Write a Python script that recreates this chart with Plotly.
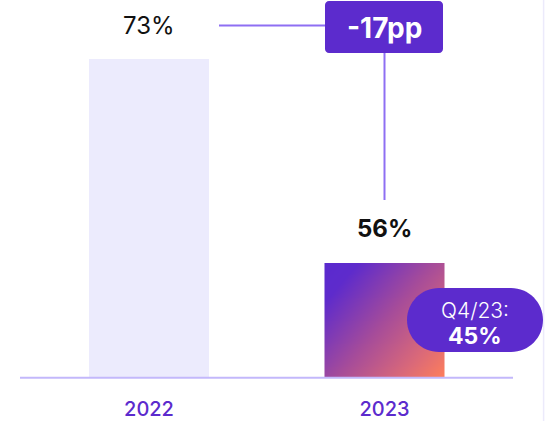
import numpy as np
import plotly.graph_objects as go

# ---- data ----
years = ["2022", "2023"]
shares = [73, 56]
value_labels = ["73%", "56%"]
delta_label = "-17pp"
q4_label = "Q4/23:"
q4_value = "45%"

# ---- layout constants ----
W, H = 545, 421
MB = 43
PLOT_H = H - MB
PX_PER_X = 235.5
X_CENTER0 = 149.0
PX_PER_Y = 12.0
Y_BASE = shares[1] - 115 / PX_PER_Y
x_range = [-X_CENTER0 / PX_PER_X, -X_CENTER0 / PX_PER_X + W / PX_PER_X]
y_range = [Y_BASE, Y_BASE + PLOT_H / PX_PER_Y]
BAR_W = 120 / PX_PER_X

PURPLE = "#5c2bcd"
LINE = "#8e6ff3"


def PX(px):
    return px / W


def PY(py):
    return (PLOT_H - py) / PLOT_H


def rounded_rect(x0, y0, x1, y1, r):
    k = 0.5523 * r

    def p(x, y):
        return f"{PX(x):.5f},{PY(y):.5f}"
    return (
        f"M {p(x0 + r, y0)} L {p(x1 - r, y0)} "
        f"C {p(x1 - r + k, y0)} {p(x1, y0 + r - k)} {p(x1, y0 + r)} "
        f"L {p(x1, y1 - r)} "
        f"C {p(x1, y1 - r + k)} {p(x1 - r + k, y1)} {p(x1 - r, y1)} "
        f"L {p(x0 + r, y1)} "
        f"C {p(x0 + r - k, y1)} {p(x0, y1 - r + k)} {p(x0, y1 - r)} "
        f"L {p(x0, y0 + r)} "
        f"C {p(x0, y0 + r - k)} {p(x0 + r - k, y0)} {p(x0 + r, y0)} Z"
    )


fig = go.Figure()

xpos = list(range(len(years)))

# gradient for 2023 bar via smooth heatmap
n = 60
gx0, gx1 = xpos[1] - BAR_W / 2, xpos[1] + BAR_W / 2
gy0, gy1 = y_range[0], shares[1]
xc = gx0 + (np.arange(n) + 0.5) * (gx1 - gx0) / n
yc = gy0 + (np.arange(n) + 0.5) * (gy1 - gy0) / n
u = (np.arange(n) + 0.5) / n            # left -> right
v = 1 - (np.arange(n) + 0.5) / n         # top -> bottom
Z = (0.55 * u[None, :] + 0.45 * v[:, None])
fig.add_trace(go.Heatmap(
    x=xc, y=yc, z=Z, zsmooth="best", showscale=False, hoverinfo="skip",
    colorscale=[[0, "#5a2ace"], [0.15, "#5e2bcc"], [0.5, "#a64c9a"],
                [0.8, "#dc6a78"], [1, "#ff7f5a"]],
    zmin=0, zmax=1,
))

fig.add_trace(go.Bar(
    x=xpos, y=shares, width=BAR_W,
    marker=dict(color=["#ecebfd", "rgba(0,0,0,0)"], line=dict(width=0)),
    hoverinfo="skip",
))

shapes = [
    dict(type="line", xref="paper", yref="paper", x0=PX(20), x1=PX(513),
         y0=PY(377.8), y1=PY(377.8), line=dict(color="#c3b8fb", width=2)),
    dict(type="line", xref="paper", yref="paper", x0=PX(543.6), x1=PX(543.6),
         y0=PY(0), y1=PY(421), line=dict(color="#eceafb", width=1.5)),
    dict(type="line", xref="paper", yref="paper", x0=PX(219), x1=PX(326),
         y0=PY(25.5), y1=PY(25.5), line=dict(color=LINE, width=2)),
    dict(type="line", xref="paper", yref="paper", x0=PX(384.5), x1=PX(384.5),
         y0=PY(52), y1=PY(200), line=dict(color=LINE, width=2)),
    dict(type="path", xref="paper", yref="paper", path=rounded_rect(325, 1, 443, 53, 4),
         fillcolor=PURPLE, line=dict(width=0)),
    dict(type="path", xref="paper", yref="paper", path=rounded_rect(407, 288, 543, 352, 32),
         fillcolor=PURPLE, line=dict(width=0)),
]

annotations = [
    dict(x=xpos[0], y=shares[0], xref="x", yref="y", text=value_labels[0], showarrow=False,
         yanchor="middle", yshift=34, font=dict(family="Inter", size=24, color="#111111")),
    dict(x=xpos[1], y=shares[1], xref="x", yref="y", text=value_labels[1], showarrow=False,
         yanchor="middle", yshift=35, font=dict(family="Inter", size=24, color="#111111", weight=700)),
    dict(x=PX(384), y=PY(28), xref="paper", yref="paper", text=delta_label, showarrow=False,
         xanchor="center", yanchor="middle",
         font=dict(family="Inter", size=28, color="white", weight=700)),
    dict(x=PX(475), y=PY(310), xref="paper", yref="paper", text=q4_label, showarrow=False,
         xanchor="center", yanchor="middle",
         font=dict(family="Inter", size=21, color="white", weight=300)),
    dict(x=PX(475), y=PY(336), xref="paper", yref="paper", text=q4_value, showarrow=False,
         xanchor="center", yanchor="middle",
         font=dict(family="Inter", size=23, color="white", weight=700)),
]

fig.update_layout(
    width=W, height=H,
    margin=dict(l=0, r=0, t=0, b=MB),
    paper_bgcolor="white", plot_bgcolor="white",
    showlegend=False, bargap=0,
    shapes=shapes, annotations=annotations,
    xaxis=dict(range=x_range, tickvals=xpos, ticktext=years, showgrid=False,
               zeroline=False, showline=False, ticks="", ticklabelstandoff=17,
               tickfont=dict(family="Inter", size=20, color="#5c2bcd", weight=500),
               fixedrange=True),
    yaxis=dict(range=y_range, visible=False, showgrid=False, zeroline=False, fixedrange=True),
)

fig.write_html("out.html", config={"displayModeBar": False},
               post_script="document.body.style.margin='0px';document.body.style.overflow='hidden';")
